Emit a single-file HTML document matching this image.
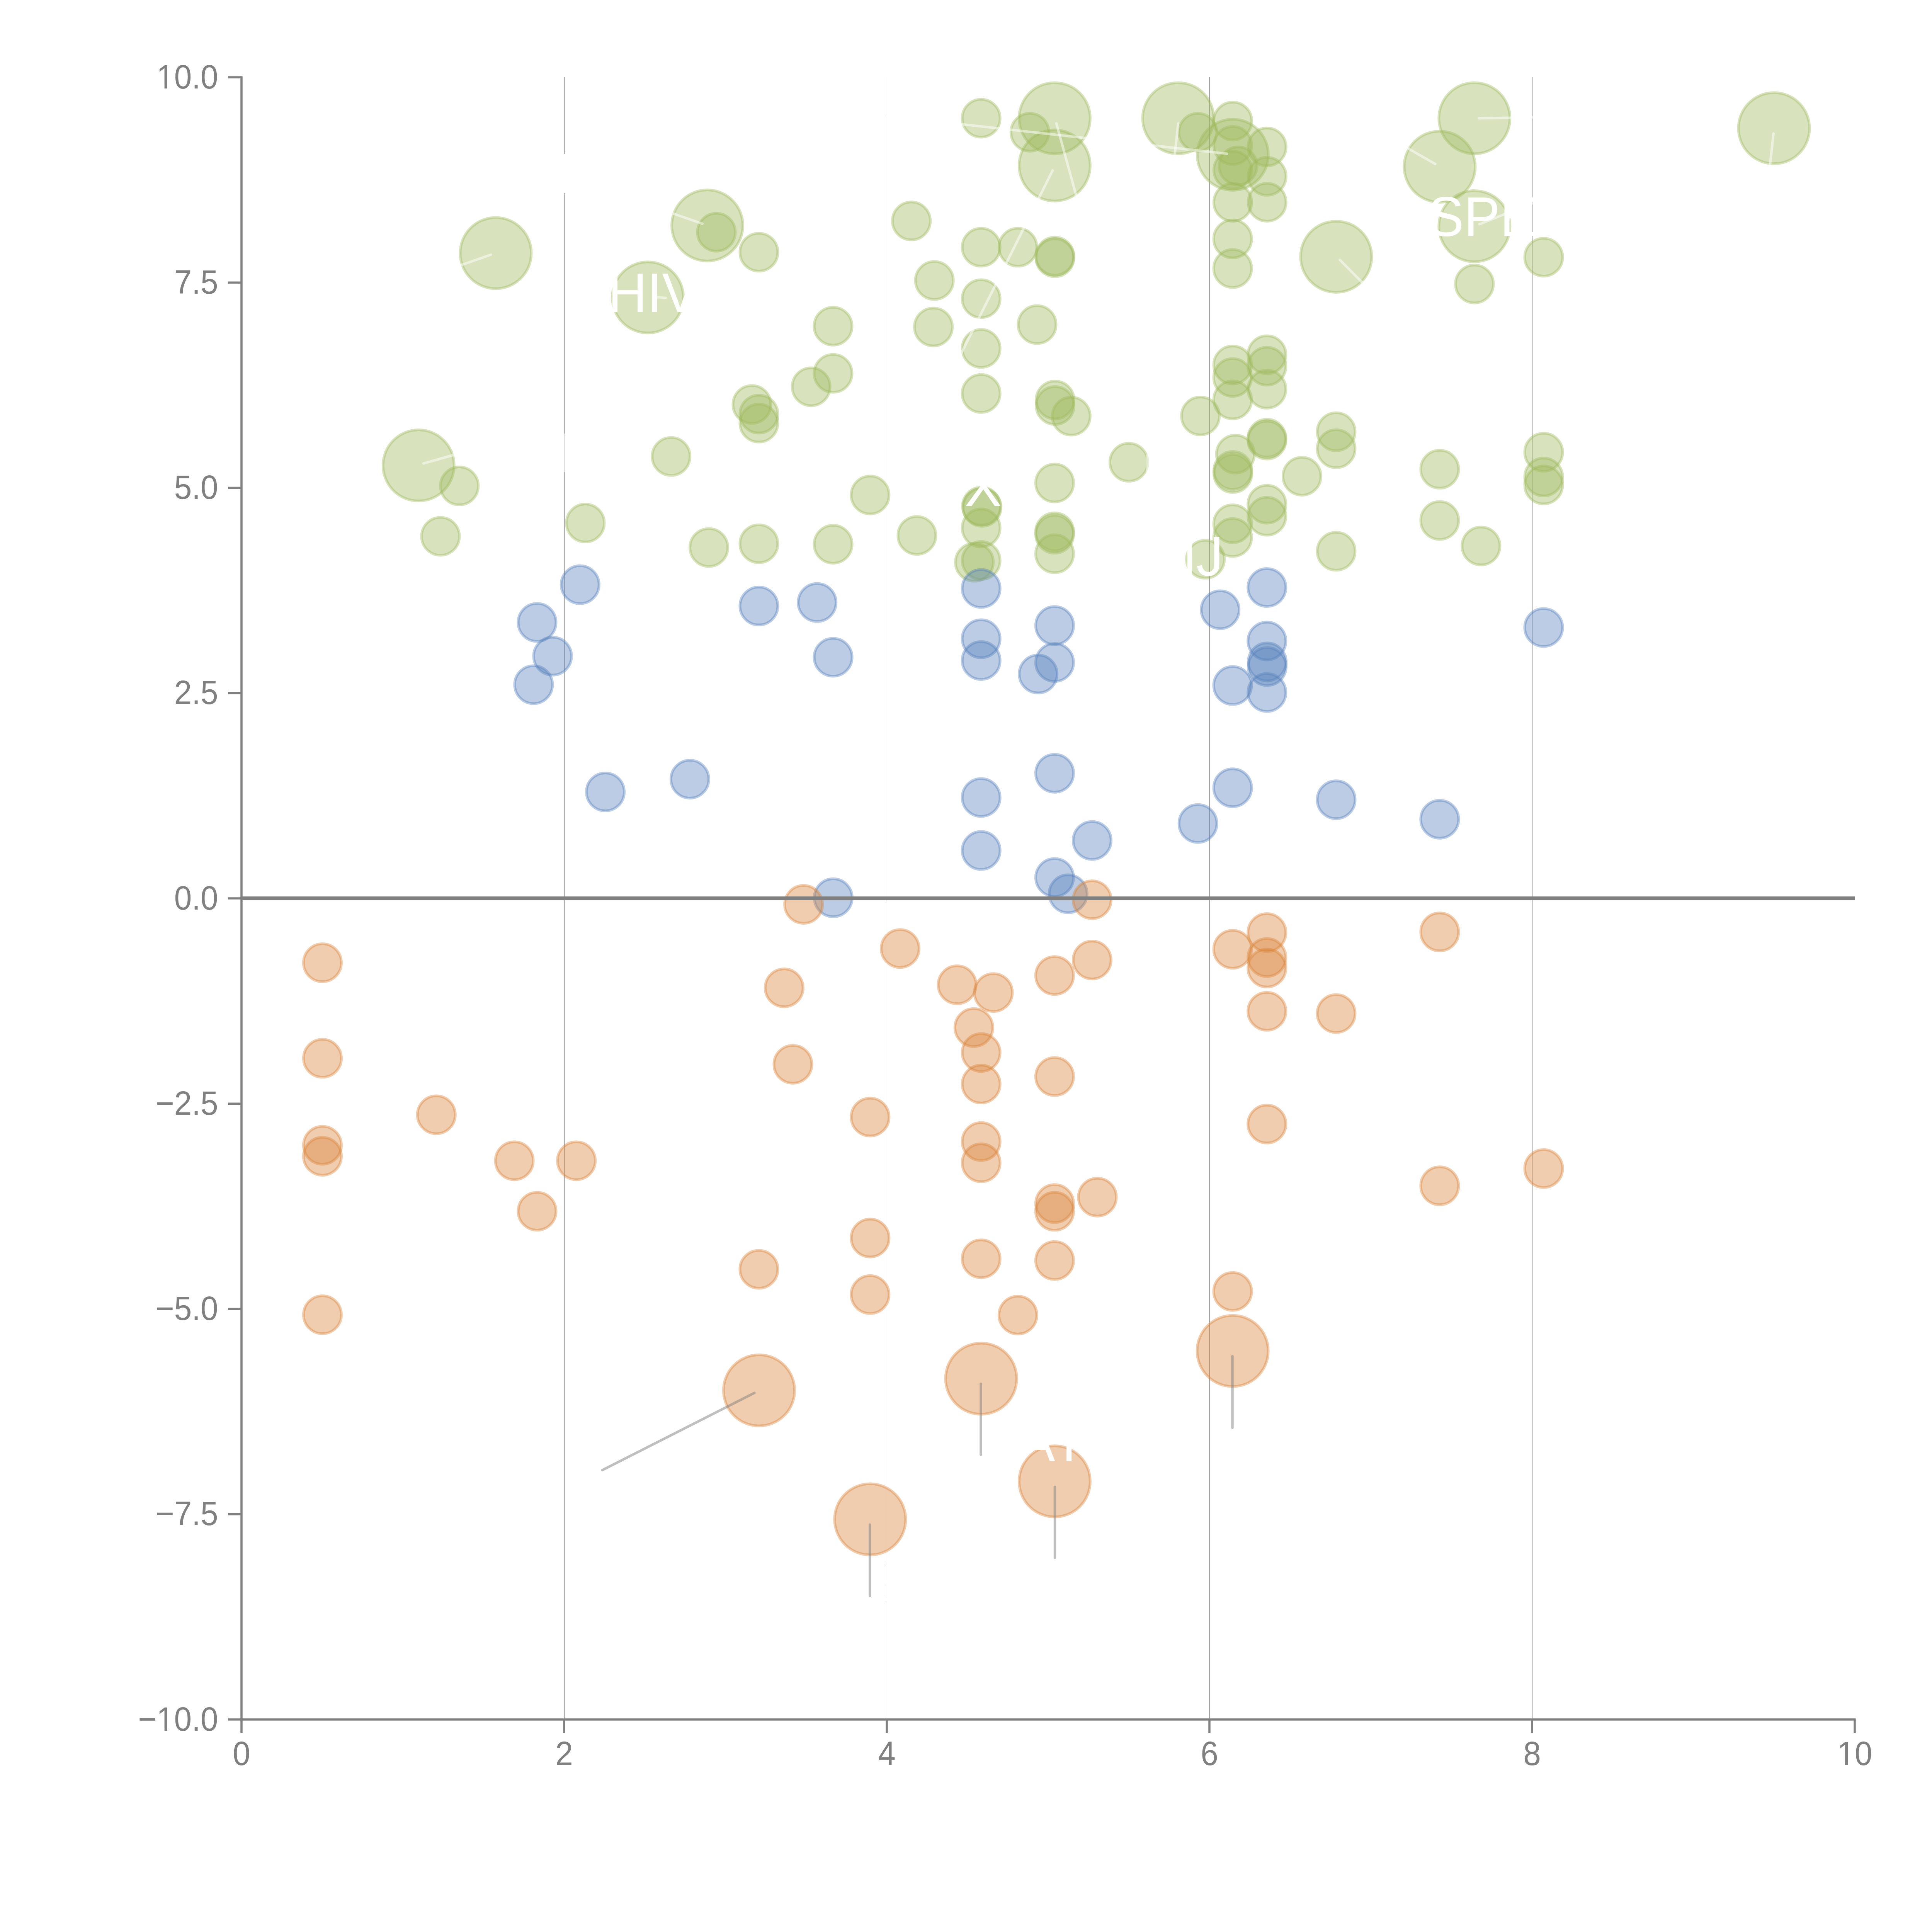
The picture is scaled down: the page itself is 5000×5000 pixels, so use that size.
<!DOCTYPE html><html><head><meta charset="utf-8"><title>Bubble chart</title>
<style>html,body{margin:0;padding:0;background:#fff;width:5000px;height:5000px;overflow:hidden}svg{display:block}.tk{font-family:"Liberation Sans",Arial,Helvetica,sans-serif;font-size:82px;fill:#808080}.lb{font-family:"Liberation Sans",Arial,Helvetica,sans-serif;font-size:140px;fill:#fff}</style></head><body>
<svg width="5000" height="5000" viewBox="0 0 5000 5000">
<rect width="5000" height="5000" fill="#fff"/>
<line x1="1460.5" y1="200" x2="1460.5" y2="4450" stroke="#777" stroke-width="1"/>
<line x1="2295.5" y1="200" x2="2295.5" y2="4450" stroke="#777" stroke-width="1"/>
<line x1="3130.5" y1="200" x2="3130.5" y2="4450" stroke="#777" stroke-width="1"/>
<line x1="3965.5" y1="200" x2="3965.5" y2="4450" stroke="#777" stroke-width="1"/>
<g fill="#9db95c" fill-opacity="0.4" stroke="#9db95c" stroke-opacity="0.4" stroke-width="7">
<circle cx="1283" cy="655" r="92"/>
<circle cx="1676.6" cy="769.8" r="92"/>
<circle cx="1830.5" cy="583.5" r="92"/>
<circle cx="1854" cy="601" r="49"/>
<circle cx="1964" cy="652.7" r="49"/>
<circle cx="1083.3" cy="1204.5" r="92"/>
<circle cx="1188.8" cy="1257.6" r="49"/>
<circle cx="1140" cy="1388" r="49"/>
<circle cx="1736.8" cy="1181.3" r="49"/>
<circle cx="1514.9" cy="1353.6" r="49"/>
<circle cx="2156" cy="844.2" r="49"/>
<circle cx="2156" cy="966.3" r="49"/>
<circle cx="2099.2" cy="1000.9" r="49"/>
<circle cx="1945.9" cy="1046.7" r="49"/>
<circle cx="1964" cy="1071.7" r="49"/>
<circle cx="1964" cy="1095" r="49"/>
<circle cx="2251.9" cy="1281" r="49"/>
<circle cx="2358.6" cy="571.8" r="49"/>
<circle cx="2539.2" cy="305.9" r="49"/>
<circle cx="2729.4" cy="305.9" r="92"/>
<circle cx="2665.3" cy="342.2" r="49"/>
<circle cx="2729.4" cy="428.2" r="92"/>
<circle cx="2539.2" cy="639.8" r="49"/>
<circle cx="2634.3" cy="639.8" r="49"/>
<circle cx="2730" cy="663" r="49"/>
<circle cx="2730" cy="667" r="49"/>
<circle cx="2418.2" cy="725.8" r="49"/>
<circle cx="2539.2" cy="773" r="49"/>
<circle cx="2415.6" cy="846.2" r="49"/>
<circle cx="2684" cy="840" r="49"/>
<circle cx="2539.2" cy="901.8" r="49"/>
<circle cx="2539.2" cy="1018.3" r="49"/>
<circle cx="2730.5" cy="1035.2" r="49"/>
<circle cx="2730.5" cy="1049.4" r="49"/>
<circle cx="2772.3" cy="1077" r="49"/>
<circle cx="2921.4" cy="1196.3" r="49"/>
<circle cx="2729.4" cy="1250" r="49"/>
<circle cx="2540" cy="1310" r="49"/>
<circle cx="2541.5" cy="1313" r="49"/>
<circle cx="2539.2" cy="1366.3" r="49"/>
<circle cx="2372.9" cy="1385.7" r="49"/>
<circle cx="1834.6" cy="1416.9" r="49"/>
<circle cx="1964" cy="1407.2" r="49"/>
<circle cx="2156.1" cy="1408.5" r="49"/>
<circle cx="2521.7" cy="1455.1" r="49"/>
<circle cx="2539.2" cy="1450.6" r="49"/>
<circle cx="2729.4" cy="1376.2" r="49"/>
<circle cx="2729.4" cy="1382.6" r="49"/>
<circle cx="2729.4" cy="1433.1" r="49"/>
<circle cx="3049.1" cy="305.9" r="92"/>
<circle cx="3100" cy="342.2" r="49"/>
<circle cx="3190.4" cy="313.2" r="49"/>
<circle cx="3190.4" cy="400.5" r="92"/>
<circle cx="3190.4" cy="376.6" r="49"/>
<circle cx="3190.4" cy="440" r="49"/>
<circle cx="3204" cy="429.2" r="49"/>
<circle cx="3279.2" cy="380.3" r="49"/>
<circle cx="3279.2" cy="456.3" r="49"/>
<circle cx="3190.4" cy="523.4" r="49"/>
<circle cx="3279.2" cy="523.4" r="49"/>
<circle cx="3190.1" cy="618.4" r="49"/>
<circle cx="3190.1" cy="694.8" r="49"/>
<circle cx="3458" cy="664.4" r="92"/>
<circle cx="3815.8" cy="305.9" r="92"/>
<circle cx="3725.9" cy="431.4" r="92"/>
<circle cx="3815.8" cy="585.4" r="92"/>
<circle cx="3815.8" cy="734.9" r="49"/>
<circle cx="3995" cy="665.7" r="49"/>
<circle cx="3190.1" cy="944.5" r="49"/>
<circle cx="3190.1" cy="976.9" r="49"/>
<circle cx="3190.1" cy="1035" r="49"/>
<circle cx="3278.8" cy="918" r="49"/>
<circle cx="3278.8" cy="947.7" r="49"/>
<circle cx="3278.8" cy="1007.3" r="49"/>
<circle cx="3106.7" cy="1076.5" r="49"/>
<circle cx="3197.3" cy="1175.2" r="49"/>
<circle cx="3190.6" cy="1217.5" r="49"/>
<circle cx="3190.6" cy="1225.5" r="49"/>
<circle cx="3278.8" cy="1134" r="49"/>
<circle cx="3278.8" cy="1139" r="49"/>
<circle cx="3369.4" cy="1232.4" r="49"/>
<circle cx="3458" cy="1117.3" r="49"/>
<circle cx="3458" cy="1161.3" r="49"/>
<circle cx="3725.9" cy="1214.3" r="49"/>
<circle cx="3725.9" cy="1347" r="49"/>
<circle cx="3995" cy="1170.3" r="49"/>
<circle cx="3995" cy="1234.4" r="49"/>
<circle cx="3995" cy="1255" r="49"/>
<circle cx="3278.8" cy="1304.9" r="49"/>
<circle cx="3278.8" cy="1336" r="49"/>
<circle cx="3190.1" cy="1355.5" r="49"/>
<circle cx="3190.1" cy="1391" r="49"/>
<circle cx="3119.6" cy="1447.3" r="49"/>
<circle cx="3458" cy="1426.6" r="49"/>
<circle cx="3832.8" cy="1413" r="49"/>
<circle cx="4591.1" cy="331.8" r="92"/>
</g>
<g fill="#557fbb" fill-opacity="0.4" stroke="#557fbb" stroke-opacity="0.4" stroke-width="7">
<circle cx="1501.3" cy="1513.1" r="49"/>
<circle cx="1390" cy="1610.8" r="49"/>
<circle cx="1430.1" cy="1698.1" r="49"/>
<circle cx="1380.9" cy="1771.9" r="49"/>
<circle cx="1566.6" cy="2049.4" r="49"/>
<circle cx="1785.4" cy="2016.5" r="49"/>
<circle cx="1964" cy="1568.3" r="49"/>
<circle cx="2114.7" cy="1559.3" r="49"/>
<circle cx="2156.1" cy="1701" r="49"/>
<circle cx="2539.2" cy="1523" r="49"/>
<circle cx="2539.2" cy="1653.1" r="49"/>
<circle cx="2539.2" cy="1709.4" r="49"/>
<circle cx="2729.4" cy="1618.8" r="49"/>
<circle cx="2729.4" cy="1714.5" r="49"/>
<circle cx="2686.7" cy="1744.3" r="49"/>
<circle cx="2729.4" cy="2001.2" r="49"/>
<circle cx="2539.2" cy="2063.9" r="49"/>
<circle cx="2539.2" cy="2201.1" r="49"/>
<circle cx="2826.4" cy="2175.2" r="49"/>
<circle cx="2729.4" cy="2271" r="49"/>
<circle cx="2764.3" cy="2313" r="49"/>
<circle cx="2156.4" cy="2323.3" r="49"/>
<circle cx="3278.8" cy="1520.4" r="49"/>
<circle cx="3157.8" cy="1578" r="49"/>
<circle cx="3278.8" cy="1658.9" r="49"/>
<circle cx="3279.5" cy="1713" r="49"/>
<circle cx="3279.5" cy="1725" r="49"/>
<circle cx="3190.1" cy="1774.1" r="49"/>
<circle cx="3278.8" cy="1792.2" r="49"/>
<circle cx="3995" cy="1624" r="49"/>
<circle cx="3190.1" cy="2038.7" r="49"/>
<circle cx="3458" cy="2069.7" r="49"/>
<circle cx="3725.9" cy="2120.2" r="49"/>
<circle cx="3100.2" cy="2131.2" r="49"/>
</g>
<g fill="#d98237" fill-opacity="0.4" stroke="#d98237" stroke-opacity="0.4" stroke-width="7">
<circle cx="2079.7" cy="2340.5" r="49"/>
<circle cx="2329.5" cy="2454.7" r="49"/>
<circle cx="2826.4" cy="2328.5" r="49"/>
<circle cx="2826.4" cy="2484.5" r="49"/>
<circle cx="834.5" cy="2491.6" r="49"/>
<circle cx="834.5" cy="2738.8" r="49"/>
<circle cx="1129.2" cy="2885" r="49"/>
<circle cx="834.5" cy="2963.9" r="49"/>
<circle cx="834.5" cy="2992.4" r="49"/>
<circle cx="1331.1" cy="3004" r="49"/>
<circle cx="1491.6" cy="3004" r="49"/>
<circle cx="1390" cy="3134.7" r="49"/>
<circle cx="834.5" cy="3402.5" r="49"/>
<circle cx="2029.3" cy="2556.4" r="49"/>
<circle cx="2052" cy="2754.4" r="49"/>
<circle cx="2251.9" cy="2890.9" r="49"/>
<circle cx="2477" cy="2548.6" r="49"/>
<circle cx="2570.9" cy="2568.7" r="49"/>
<circle cx="2520.4" cy="2659.3" r="49"/>
<circle cx="2539.2" cy="2724" r="49"/>
<circle cx="2539.2" cy="2805.5" r="49"/>
<circle cx="2539.2" cy="2954.3" r="49"/>
<circle cx="2539.2" cy="3009.3" r="49"/>
<circle cx="2729.4" cy="2524.7" r="49"/>
<circle cx="2729.4" cy="2786.1" r="49"/>
<circle cx="2729.4" cy="3114.8" r="49"/>
<circle cx="2729.4" cy="3134.8" r="49"/>
<circle cx="2840" cy="3098.2" r="49"/>
<circle cx="2251.9" cy="3204" r="49"/>
<circle cx="1964" cy="3284.9" r="49"/>
<circle cx="2251.9" cy="3350.3" r="49"/>
<circle cx="2539.2" cy="3257.7" r="49"/>
<circle cx="2729.4" cy="3262.3" r="49"/>
<circle cx="2634.3" cy="3403.4" r="49"/>
<circle cx="1964.5" cy="3598.3" r="92"/>
<circle cx="2539.2" cy="3567.9" r="92"/>
<circle cx="2251.9" cy="3932.1" r="92"/>
<circle cx="2729.4" cy="3833.8" r="92"/>
<circle cx="3190.1" cy="2456.7" r="49"/>
<circle cx="3278.8" cy="2413.5" r="49"/>
<circle cx="3278.8" cy="2478.1" r="49"/>
<circle cx="3278.8" cy="2505.3" r="49"/>
<circle cx="3278.8" cy="2617.2" r="49"/>
<circle cx="3458" cy="2623" r="49"/>
<circle cx="3725.9" cy="2411.8" r="49"/>
<circle cx="3278.8" cy="2909" r="49"/>
<circle cx="3725.9" cy="3068.8" r="49"/>
<circle cx="3995" cy="3024.2" r="49"/>
<circle cx="3190.1" cy="3342.2" r="49"/>
<circle cx="3190.1" cy="3496.2" r="92"/>
</g>
<line x1="625" y1="2325" x2="4800.0" y2="2325" stroke="#808080" stroke-width="10"/>
<g stroke="#fff" stroke-opacity="0.5" stroke-width="6.5" stroke-linecap="round">
<line x1="1270.3" y1="659.2" x2="1110" y2="715"/>
<line x1="1700" y1="769" x2="1722.6" y2="771"/>
<line x1="1817.7" y1="579" x2="1700" y2="538"/>
<line x1="1096.2" y1="1199.4" x2="1250" y2="1156"/>
<line x1="3175.3" y1="397.8" x2="2250" y2="295"/>
<line x1="2733.9" y1="319.5" x2="2800" y2="560"/>
<line x1="2724.2" y1="441.1" x2="2440" y2="1010"/>
<line x1="3049.1" y1="319.5" x2="3036" y2="440"/>
<line x1="3827.4" y1="305.9" x2="3990" y2="303.5"/>
<line x1="3714.2" y1="424.3" x2="3600" y2="359"/>
<line x1="3828.7" y1="580.3" x2="4000" y2="512"/>
<line x1="3467.7" y1="672.8" x2="3560" y2="766"/>
<line x1="4589.8" y1="345.4" x2="4576" y2="470"/>
<line x1="2969.6" y1="1179.3" x2="2969.6" y2="1260"/>
</g>
<g stroke="#808080" stroke-opacity="0.5" stroke-width="6.5" stroke-linecap="round">
<line x1="1952.3" y1="3604.8" x2="1558.9" y2="3804.7"/>
<line x1="2538.5" y1="3581.4" x2="2538.5" y2="3764.5"/>
<line x1="2251.2" y1="3945.7" x2="2251.2" y2="4130.1"/>
<line x1="2730" y1="3848" x2="2730" y2="4031.1"/>
<line x1="3189.5" y1="3510.3" x2="3189.5" y2="3694.7"/>
</g>
<defs><clipPath id="cj"><rect x="2900" y="1401.5" width="300" height="200"/><rect x="3142" y="1300" width="200" height="300"/></clipPath></defs>
<text class="lb" transform="translate(1573.5,808) scale(1,1.04)">HIV</text>
<text class="lb" transform="translate(3695.3,611) scale(1,1.04)">SPE</text>
<g clip-path="url(#cj)"><text class="lb" transform="translate(2994.7,1490) scale(1,1.04)">NJ</text></g>
<text class="lb" transform="translate(2637,3781) scale(1,1.04)">AY</text>
<text class="lb" style="font-size:145px" x="2496" y="1309.9">X</text>
<rect x="1455" y="398.5" width="10" height="101" fill="#fff"/>
<rect x="1455" y="1122" width="10" height="100" fill="#fff" fill-opacity="0.6"/>
<text class="lb" transform="translate(2258.5,4147) scale(1,1.07)">E</text>
<g stroke="#808080" stroke-width="5.5" fill="none">
<path d="M625,197.5 V4452.5 M622.5,4450 H4802.5"/>
<line x1="590" y1="200.0" x2="625" y2="200.0"/>
<line x1="590" y1="731.25" x2="625" y2="731.25"/>
<line x1="590" y1="1262.5" x2="625" y2="1262.5"/>
<line x1="590" y1="1793.75" x2="625" y2="1793.75"/>
<line x1="590" y1="2325.0" x2="625" y2="2325.0"/>
<line x1="590" y1="2856.25" x2="625" y2="2856.25"/>
<line x1="590" y1="3387.5" x2="625" y2="3387.5"/>
<line x1="590" y1="3918.75" x2="625" y2="3918.75"/>
<line x1="590" y1="4450.0" x2="625" y2="4450.0"/>
<line x1="625" y1="4450" x2="625" y2="4485"/>
<line x1="1460" y1="4450" x2="1460" y2="4485"/>
<line x1="2295" y1="4450" x2="2295" y2="4485"/>
<line x1="3130" y1="4450" x2="3130" y2="4485"/>
<line x1="3965" y1="4450" x2="3965" y2="4485"/>
<line x1="4800" y1="4450" x2="4800" y2="4485"/>
</g>
<text class="tk" text-anchor="end" transform="translate(564.6,228.6) scale(1,1.065)">10.0</text>
<text class="tk" text-anchor="end" transform="translate(564.6,759.9) scale(1,1.065)">7.5</text>
<text class="tk" text-anchor="end" transform="translate(564.6,1291.1) scale(1,1.065)">5.0</text>
<text class="tk" text-anchor="end" transform="translate(564.6,1822.3) scale(1,1.065)">2.5</text>
<text class="tk" text-anchor="end" transform="translate(564.6,2353.6) scale(1,1.065)">0.0</text>
<text class="tk" text-anchor="end" transform="translate(564.6,2884.8) scale(1,1.065)">−2.5</text>
<text class="tk" text-anchor="end" transform="translate(564.6,3416.1) scale(1,1.065)">−5.0</text>
<text class="tk" text-anchor="end" transform="translate(564.6,3947.3) scale(1,1.065)">−7.5</text>
<text class="tk" text-anchor="end" transform="translate(564.6,4478.6) scale(1,1.065)">−10.0</text>
<text class="tk" text-anchor="middle" transform="translate(625,4567.7) scale(1,1.065)">0</text>
<text class="tk" text-anchor="middle" transform="translate(1460,4567.7) scale(1,1.065)">2</text>
<text class="tk" text-anchor="middle" transform="translate(2295,4567.7) scale(1,1.065)">4</text>
<text class="tk" text-anchor="middle" transform="translate(3130,4567.7) scale(1,1.065)">6</text>
<text class="tk" text-anchor="middle" transform="translate(3965,4567.7) scale(1,1.065)">8</text>
<text class="tk" text-anchor="middle" transform="translate(4800,4567.7) scale(1,1.065)">10</text>
<rect x="410.25" y="221.78" width="15.37" height="7.82" fill="#fff"/>
<rect x="432.87" y="221.78" width="14.73" height="7.82" fill="#fff"/>
<rect x="410.25" y="4471.78" width="15.37" height="7.82" fill="#fff"/>
<rect x="432.87" y="4471.78" width="14.73" height="7.82" fill="#fff"/>
<rect x="4759.64" y="4560.88" width="15.37" height="7.82" fill="#fff"/>
<rect x="4782.26" y="4560.88" width="14.73" height="7.82" fill="#fff"/>
</svg></body></html>
